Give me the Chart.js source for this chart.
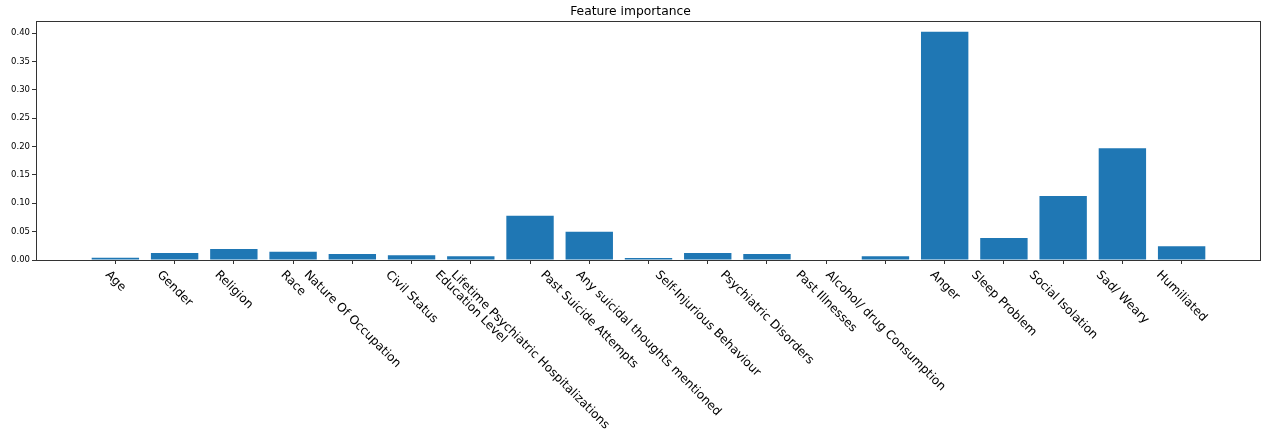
<!DOCTYPE html>
<html>
<head>
<meta charset="utf-8">
<script src="https://cdn.jsdelivr.net/npm/chart.js@4/dist/chart.umd.min.js"></script>
<style>
  html, body { margin: 0; padding: 0; background: #fff; }
  #wrap { width: 1263px; height: 434px; }
</style>
</head>
<body>
<div id="wrap"><canvas id="chart"></canvas></div>
<script>
// Feature names along the x axis
const features = [
	'Age', 'Gender', 'Religion', 'Race', 'Nature Of Occupation', 'Civil Status',
	'Education Level', 'Lifetime Psychiatric Hospitalizations', 'Past Suicide Attempts',
	'Any suicidal thoughts mentioned', 'Self-Injurious Behaviour', 'Psychiatric Disorders',
	'Past Illnesses', 'Alcohol/ drug Consumption', 'Anger', 'Sleep Problem',
	'Social Isolation', 'Sad/ Weary', 'Humiliated'
];

// Importance values
const importance = [
	0.004, 0.0124, 0.0194, 0.0147, 0.0106, 0.0082,
	0.0065, 0.0782, 0.050,
	0.0035, 0.0124, 0.0106,
	0.001, 0.0065, 0.4023, 0.0388,
	0.113, 0.197, 0.0241
];

const yTicks = [0, 0.05, 0.10, 0.15, 0.20, 0.25, 0.30, 0.35, 0.40];

const BAR_COLOR = '#1f77b4';
const FONT = 'DejaVu Sans';
const LABEL_SIZE = 12.1;

// --- Plugins ---

// Box around the plot area (matplotlib spines)
const spines = {
	id: 'spines',
	afterDatasetsDraw(chart) {
		const { ctx, chartArea: a } = chart;
		ctx.save();
		ctx.strokeStyle = '#333';
		ctx.lineWidth = 1;
		ctx.strokeRect(Math.round(a.left) + 0.5, Math.round(a.top) + 0.5,
			Math.round(a.right - a.left) - 1, Math.round(a.bottom - a.top));
		ctx.restore();
	}
};

// Rotated x labels, centred under each tick, text running down-right
const rotatedLabels = {
	id: 'rotatedLabels',
	afterDraw(chart) {
		const { ctx } = chart;
		const xs = chart.scales.x;
		const y0 = chart.chartArea.bottom + 8;
		const h = LABEL_SIZE * 1.17;
		ctx.save();
		ctx.font = `${LABEL_SIZE}px "${FONT}"`;
		ctx.fillStyle = '#000';
		ctx.textAlign = 'center';
		ctx.textBaseline = 'middle';
		features.forEach((name, i) => {
			const w = ctx.measureText(name).width;
			const half = (w + h) / (2 * Math.SQRT2);
			ctx.save();
			ctx.translate(xs.getPixelForValue(i), y0 + half);
			ctx.rotate(Math.PI / 4);
			ctx.fillText(name, 0, 0);
			ctx.restore();
		});
		ctx.restore();
	}
};

new Chart(document.getElementById('chart'), {
	type: 'bar',
	data: {
		datasets: [{
			data: importance.map((v, i) => ({ x: i, y: v })),
			backgroundColor: BAR_COLOR,
			borderWidth: 0,
			barPercentage: 0.8,
			categoryPercentage: 1.0
		}]
	},
	options: {
		responsive: true,
		maintainAspectRatio: false,
		animation: false,
		layout: { padding: { left: 0, right: 2, top: 0, bottom: 0 } },
		plugins: {
			legend: { display: false },
			tooltip: { enabled: false },
			title: {
				display: true,
				text: 'Feature importance',
				color: '#000',
				font: { family: FONT, size: 12.3, weight: 'normal' },
				padding: { top: 4, bottom: 2 }
			}
		},
		scales: {
			x: {
				type: 'linear',
				offset: false,
				min: -1.34,
				max: features.length - 1 + 1.34,
				afterBuildTicks: s => { s.ticks = features.map((_, i) => ({ value: i })); },
				afterFit: s => { s.height = 174; },
				ticks: { display: false },
				grid: { offset: false, drawOnChartArea: false, drawTicks: true, tickLength: 4, color: '#333' },
				border: { display: false }
			},
			y: {
				min: 0,
				max: 0.4217,
				afterBuildTicks: s => { s.ticks = yTicks.map(v => ({ value: v })); },
				afterFit: s => { s.width = 36; },
				ticks: {
					color: '#000',
					padding: 2,
					font: { family: FONT, size: 8.5 },
					callback: v => v.toFixed(2)
				},
				grid: { drawOnChartArea: false, drawTicks: true, tickLength: 4, color: '#333' },
				border: { display: false }
			}
		}
	},
	plugins: [spines, rotatedLabels]
});
</script>
</body>
</html>
